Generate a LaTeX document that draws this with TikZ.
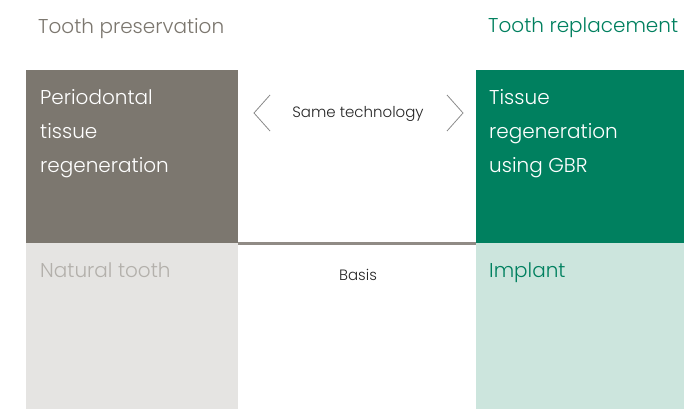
\documentclass[tikz,border=0pt]{standalone}
\usepackage{fontspec}
\setmainfont{Poppins Light}
\begin{document}
\begin{tikzpicture}[x=1pt,y=-1pt,
  block/.style={draw=none,inner sep=0pt,anchor=north west},
  big/.style={font=\fontsize{20}{34}\selectfont,align=left,anchor=north west,inner sep=0pt},
  small/.style={font=\fontsize{15}{18}\selectfont,text=black!85,inner sep=0pt},
  chev/.style={draw=black!45,line width=0.8pt}]
\definecolor{dgray}{HTML}{7C776F}
\definecolor{lgray}{HTML}{E5E4E2}
\definecolor{dgreen}{HTML}{00805F}
\definecolor{lgreen}{HTML}{CCE5DD}
\definecolor{tgray}{HTML}{B3B0AB}
\useasboundingbox (0,0) rectangle (684,409);
\fill[white] (0,0) rectangle (684,409);
\node[block,fill=dgray,minimum width=212pt,minimum height=173pt] (pb) at (26,70) {};
\node[block,fill=lgray,minimum width=212pt,minimum height=166pt] (nb) at (26,243) {};
\node[block,fill=dgreen,minimum width=208pt,minimum height=173pt] (gb) at (476,70) {};
\node[block,fill=lgreen,minimum width=208pt,minimum height=166pt] (ib) at (476,243) {};
\draw[draw=dgray!85,line width=3pt] (pb.south east) -- (gb.south west);
\node[big,text=dgray] (h1) at (38,18) {Tooth preservation};
\node[big,text=dgreen] (h2) at (488,18) {Tooth replacement};
\node[big,text=white] (t1) at (40,89) {Periodontal\\tissue\\regeneration};
\node[big,text=white] (t2) at (489,89) {Tissue\\regeneration\\using GBR};
\node[big,text=tgray] (t3) at (40,262) {Natural tooth};
\node[big,text=dgreen] (t4) at (489,262) {Implant};
\node[small] (st) at (358,114) {Same technology};
\node[small] (bs) at (358,275) {Basis};
\coordinate (l1) at (270,95); \coordinate (l2) at (254,113); \coordinate (l3) at (270,131);
\coordinate (r1) at (447,95); \coordinate (r2) at (463,113); \coordinate (r3) at (447,131);
\draw[chev] (l1) -- (l2) -- (l3);
\draw[chev] (r1) -- (r2) -- (r3);
\end{tikzpicture}
\end{document}
